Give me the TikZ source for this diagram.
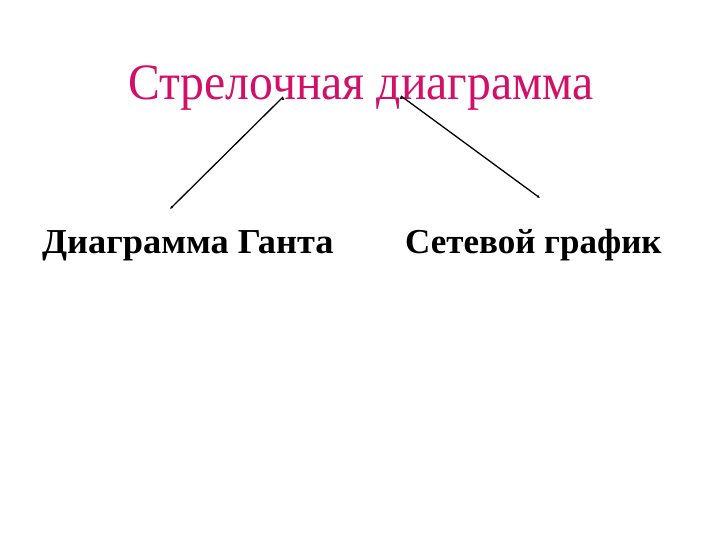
\documentclass[tikz,border=0pt]{standalone}
\usepackage{fontspec}
\setmainfont{Liberation Serif}
\newfontfamily\headfont[FakeStretch=0.935]{Liberation Serif}
\newfontfamily\ganttfont[FakeStretch=1.04]{Liberation Serif}
\usetikzlibrary{arrows.meta}
\definecolor{titlered}{RGB}{210,16,104}
\begin{document}
\begin{tikzpicture}[x=1pt,y=-1pt,->,>={Latex[length=3pt,width=3pt]}]
        \tikzstyle{heading}=[font=\headfont\fontsize{51}{56}\selectfont,text=titlered,inner sep=0pt,anchor=base west]
        \tikzstyle{kind}=[font=\fontsize{35}{40}\selectfont\bfseries,inner sep=0pt,anchor=base west]
        \tikzstyle{edge}=[draw,line width=1.3pt]
       \useasboundingbox (0,0) rectangle (720,540);
       \begin{scope}
         \node [heading] (arrowdiag) at (128,100) {Стрелочная диаграмма};
         \node [kind,font=\ganttfont\fontsize{35}{40}\selectfont\bfseries] (gantt) at (42,254) {Диаграмма Ганта};
         \node [kind] (network) at (405,254) {Сетевой график};
         \coordinate (fromL) at (283,97);
         \coordinate (fromR) at (401,96);
         \coordinate (toL) at (170,209);
         \coordinate (toR) at (540,198);
         \path[edge] (fromL) edge (toL);
         \path[edge] (fromR) edge (toR);
        \end{scope}
      \end{tikzpicture}
\end{document}
